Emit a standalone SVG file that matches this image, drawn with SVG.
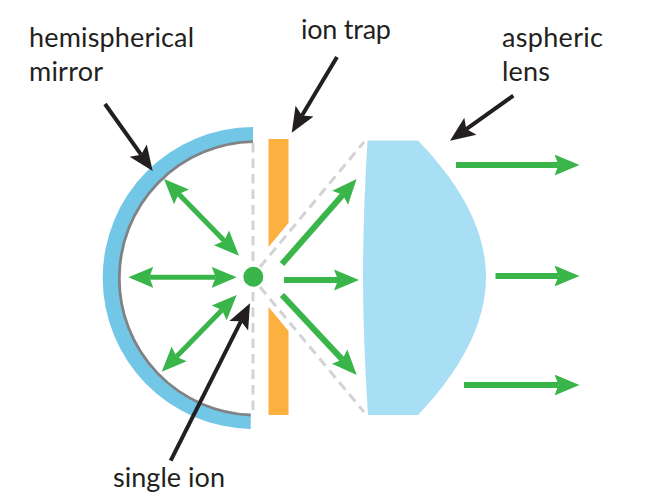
<svg xmlns="http://www.w3.org/2000/svg" width="663" height="503" viewBox="0 0 663 503">
  <style>
    text { font-family: "Lato", "Open Sans", sans-serif; font-size: 27px; fill: #231f20; }
    .ray { fill: none; stroke: #39b54a; stroke-width: 5; }
    .beam { fill: none; stroke: #39b54a; stroke-width: 6; }
    .guide { fill: none; stroke: #d1d3d4; stroke-width: 3; stroke-dasharray: 9.500 6; }
    .pointer { fill: none; stroke: #231f20; stroke-width: 4; }
  </style>
  <defs>
    <marker id="green-head" markerUnits="userSpaceOnUse" markerWidth="26" markerHeight="24" viewBox="0 0 26 24" refX="4" refY="12" orient="auto-start-reverse">
      <path d="M0 1.500L25 12L0 22.500L4 12Z" fill="#39b54a"/>
    </marker>
    <marker id="black-head" markerUnits="userSpaceOnUse" markerWidth="26" markerHeight="24" viewBox="0 0 26 24" refX="5" refY="12" orient="auto">
      <path d="M0 1.500L25 12L0 22.500L5 12Z" fill="#231f20"/>
    </marker>
  </defs>

  <g id="hemispherical-mirror">
    <path d="M253 127A151 151 0 0 0 102.700 278A151 151 0 0 0 250.700 429L250.700 415A136.700 136.700 0 0 1 119.300 278.300A136.700 136.700 0 0 1 253 141.600Z" fill="#72c7e7"/>
    <path d="M253 141.600A136.700 136.700 0 0 0 119.300 278.300A136.700 136.700 0 0 0 250.700 415" fill="none" stroke="#808285" stroke-width="2.800"/>
  </g>
  <g id="ion-trap">
    <path d="M268.500 139H288.500V223L268.500 247Z" fill="#fbb040"/>
    <path d="M268.500 307L288.500 331V415H268.500Z" fill="#fbb040"/>
  </g>
  <g id="aspheric-lens">
    <path d="M367.500 140.500H418C462 186 486 232 486 277C486 322 462 369 418 415H368Q363 340 363 277Q363 214 367.500 140.500Z" fill="#a8dff5"/>
  </g>

  <g id="connectors">
    <path class="guide" d="M253 143V264M253 292V414"/>
    <path class="guide" d="M260 267L364 142"/>
    <path class="guide" d="M260 287L364 412"/>
    <path class="ray" d="M178.700 194L224.300 240.700" marker-start="url(#green-head)" marker-end="url(#green-head)"/>
    <path class="ray" d="M149.300 277.300H215.700" marker-start="url(#green-head)" marker-end="url(#green-head)"/>
    <path class="ray" d="M222 310L176.400 356.700" marker-start="url(#green-head)" marker-end="url(#green-head)"/>
    <path class="beam" d="M282 264L342.800 194.800" marker-end="url(#green-head)"/>
    <path class="beam" d="M284 280H338" marker-end="url(#green-head)"/>
    <path class="beam" d="M282 295L342.400 359.600" marker-end="url(#green-head)"/>
    <path class="beam" d="M456 165H558.500" marker-end="url(#green-head)"/>
    <path class="beam" d="M495.500 276H558.500" marker-end="url(#green-head)"/>
    <path class="beam" d="M464 385H558.500" marker-end="url(#green-head)"/>
    <path class="pointer" d="M105 104L141.100 154.700" marker-end="url(#black-head)"/>
    <path class="pointer" d="M337 57L302 115.500" marker-end="url(#black-head)"/>
    <path class="pointer" d="M513.300 95.700L466.300 129.100" marker-end="url(#black-head)"/>
    <path class="pointer" d="M170.700 460.700L241 321.200" marker-end="url(#black-head)"/>
  </g>

  <g id="single-ion">
    <circle cx="253.300" cy="276.800" r="10" fill="#39b54a"/>
  </g>

  <g id="labels">
    <text x="29" y="47" textLength="165">hemispherical</text>
    <text x="29" y="81" textLength="74">mirror</text>
    <text x="301" y="39" textLength="90">ion trap</text>
    <text x="502" y="47" textLength="101">aspheric</text>
    <text x="502" y="81" textLength="48">lens</text>
    <text x="113" y="487" textLength="112">single ion</text>
  </g>
</svg>
